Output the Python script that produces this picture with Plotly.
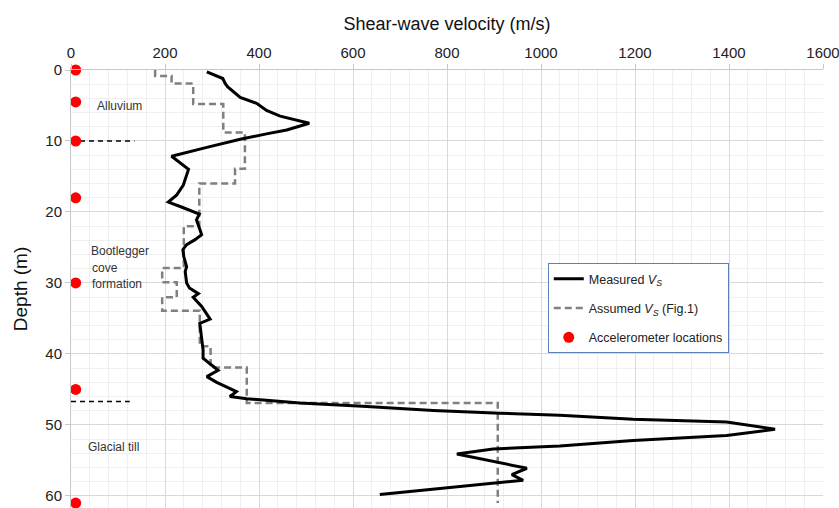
import plotly.graph_objects as go

# ---- data ----
measured_vs = [289, 323, 328, 333, 360, 395, 416, 445, 507, 459, 416, 360, 289, 214, 250, 239,
               225, 207, 235, 260, 273, 267, 273, 278, 264, 246, 238, 240, 246, 243, 246, 252,
               271, 260, 278, 296, 274, 278, 281, 281, 297, 313, 289, 310, 352, 338, 374, 487,
               620, 771, 913, 1040, 1196, 1395, 1498, 1395, 1196, 1040, 898, 821, 970, 938,
               962, 657]
measured_depth = [0.25, 1.2, 1.9, 2.35, 3.85, 4.7, 5.7, 6.5, 7.5, 8.45, 9.0, 9.76, 10.9, 12.15,
                  14.0, 16.2, 17.6, 18.6, 19.3, 19.9, 20.3, 21.1, 22.3, 23.2, 23.9, 24.6, 25.3,
                  26.3, 27.7, 28.4, 30.0, 30.7, 31.5, 32.0, 33.3, 35.1, 35.7, 38.0, 39.4, 40.6,
                  41.5, 42.3, 43.2, 44.0, 45.3, 46.0, 46.3, 46.9, 47.35, 47.97, 48.35, 48.65,
                  49.2, 49.6, 50.6, 51.5, 52.2, 52.95, 53.4, 54.1, 56.1, 57.0, 57.8, 59.8]

assumed_bounds = [0, 0.85, 1.9, 4.8, 8.8, 13.9, 16.0, 22.0, 27.9, 29.9, 32.0, 33.9, 38.9,
                  41.9, 46.9, 61.0]
assumed_vs = [179, 214, 260, 324, 370, 349, 273, 240, 194, 225, 194, 274, 297, 374, 908]

accel_depth = [0, 4.5, 10, 18, 30, 45, 61]
accel_vs = [10, 10, 10, 10, 10, 10, 10]

boundary_depth = [10, 46.7]
boundary_len = [135, 125]

labels = ["Alluvium", "Bootlegger", "cove", "formation", "Glacial till"]
label_vs = [50, 38, 40, 40, 31]
label_depth = [5.1, 25.5, 27.9, 30.1, 53.1]

# ---- build step profile ----
ax, ay = [], []
for i, v in enumerate(assumed_vs):
    ax += [v, v]
    ay += [assumed_bounds[i], assumed_bounds[i + 1]]

fig = go.Figure()

for d, L in zip(boundary_depth, boundary_len):
    fig.add_trace(go.Scatter(x=[0, L], y=[d, d], mode="lines", showlegend=False,
                             line=dict(color="black", width=1.5, dash="5px,4px"),
                             hoverinfo="skip"))

fig.add_trace(go.Scatter(x=ax, y=ay, mode="lines", name="Assumed <i>V<sub>S</sub></i> (Fig.1)",
                         legendgroup="b", legendrank=2,
                         line=dict(color="#808080", width=2.5, dash="7px,4px")))
fig.add_trace(go.Scatter(x=measured_vs, y=measured_depth, mode="lines",
                         name="Measured <i>V<sub>S</sub></i>", legendgroup="a", legendrank=1,
                         line=dict(color="black", width=3)))
fig.add_trace(go.Scatter(x=accel_vs, y=accel_depth, mode="markers",
                         name="Accelerometer locations", legendgroup="c", legendrank=3,
                         marker=dict(color="#ff0000", size=11), cliponaxis=False))

for t, xv, yv in zip(labels, label_vs, label_depth):
    fig.add_annotation(x=xv, y=yv, text=t, showarrow=False, xanchor="left", yanchor="middle",
                       font=dict(family="Liberation Sans, Arial", size=12, color="#333333"))

fig.update_layout(
    width=839, height=508,
    margin=dict(l=71, r=16, t=70, b=0),
    plot_bgcolor="white", paper_bgcolor="white",
    font=dict(family="Liberation Sans, Arial", color="#222222"),
    showlegend=True,
    legend=dict(x=0.634, y=0.559, xanchor="left", yanchor="top",
                bgcolor="white", bordercolor="#5b7fbf", borderwidth=1,
                font=dict(size=12.5, color="#222222"), traceorder="grouped",
                tracegroupgap=10, itemwidth=30),
)

fig.update_xaxes(
    side="top", range=[0, 1600], dtick=200, tick0=0,
    showgrid=True, gridcolor="#d9d9d9", gridwidth=1,
    showline=True, linecolor="#c8c8c8", linewidth=1,
    ticks="outside", ticklen=5, tickcolor="#c8c8c8",
    tickfont=dict(size=15, color="#222222"),
    ticklabeloverflow="allow",
    minor=dict(dtick=40, showgrid=True, gridcolor="#efefef", gridwidth=1),
    zeroline=False,
    title=dict(text="Shear-wave velocity (m/s)", font=dict(size=18, color="#111111"), standoff=8),
)
fig.update_yaxes(
    range=[61.7, 0], dtick=10, tick0=0,
    showgrid=True, gridcolor="#d9d9d9", gridwidth=1,
    showline=True, linecolor="#c8c8c8", linewidth=1,
    ticks="outside", ticklen=5, tickcolor="#c8c8c8",
    tickfont=dict(size=15, color="#222222"),
    minor=dict(dtick=2, showgrid=True, gridcolor="#efefef", gridwidth=1),
    zeroline=False,
    title=dict(text="Depth (m)", font=dict(size=19, color="#111111"), standoff=12),
)

fig.write_html("out.html")
